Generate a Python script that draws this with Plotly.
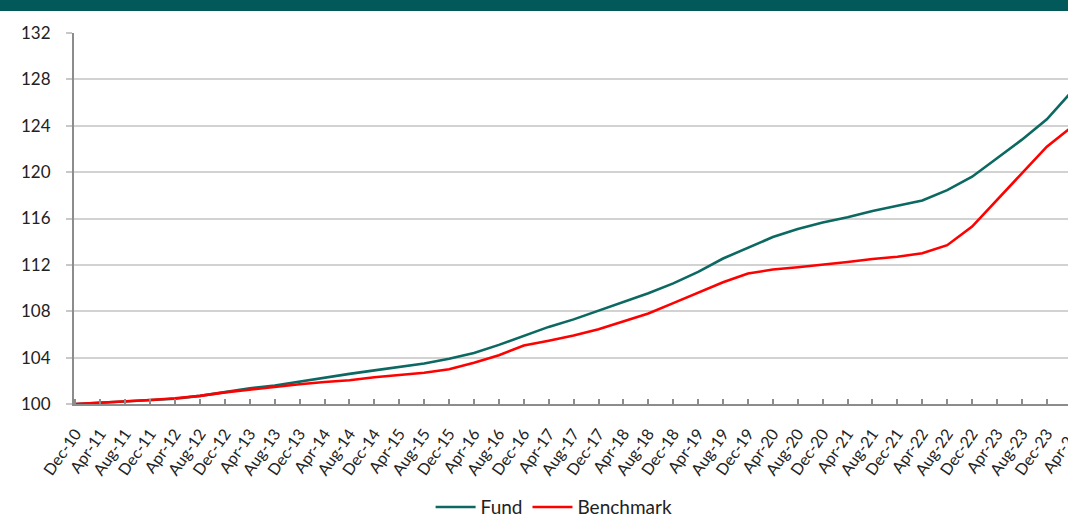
import plotly.graph_objects as go

# Tick labels (every 4 months, Dec-10 .. Apr-24)
tick_labels = ["Dec-10", "Apr-11", "Aug-11", "Dec-11", "Apr-12", "Aug-12", "Dec-12", "Apr-13",
               "Aug-13", "Dec-13", "Apr-14", "Aug-14", "Dec-14", "Apr-15", "Aug-15", "Dec-15",
               "Apr-16", "Aug-16", "Dec-16", "Apr-17", "Aug-17", "Dec-17", "Apr-18", "Aug-18",
               "Dec-18", "Apr-19", "Aug-19", "Dec-19", "Apr-20", "Aug-20", "Dec-20", "Apr-21",
               "Aug-21", "Dec-21", "Apr-22", "Aug-22", "Dec-22", "Apr-23", "Aug-23", "Dec-23",
               "Apr-24"]
# month index since Dec-10 for each labelled date
months = [4 * i for i in range(len(tick_labels))]

fund = [100.0, 100.1, 100.2, 100.3, 100.45, 100.7, 101.05, 101.35, 101.6, 101.95,
        102.3, 102.6, 102.9, 103.2, 103.5, 103.9, 104.4, 105.1, 105.9, 106.65,
        107.3, 108.05, 108.75, 109.55, 110.4, 111.4, 112.55, 113.45, 114.4, 115.1,
        115.65, 116.1, 116.65, 117.1, 117.55, 118.45, 119.6, 121.2, 122.8, 124.55,
        126.95]
benchmark = [100.0, 100.1, 100.2, 100.35, 100.5, 100.7, 101.0, 101.25, 101.5, 101.7,
             101.9, 102.05, 102.3, 102.5, 102.7, 103.0, 103.55, 104.2, 105.05, 105.45,
             105.9, 106.45, 107.1, 107.8, 108.7, 109.6, 110.5, 111.25, 111.6, 111.8,
             112.0, 112.25, 112.5, 112.7, 113.0, 113.7, 115.3, 117.6, 119.9, 122.2,
             123.9]
y_ticks = [100, 104, 108, 112, 116, 120, 124, 128, 132]

FONT = "Lato, 'Liberation Sans', sans-serif"
TEAL = "#0C6962"
RED = "#FF0000"
X_ANGLE = -55
X_FONT = 16

fig = go.Figure()
fig.add_trace(go.Scatter(x=months, y=fund, mode="lines", name="Fund",
                         line=dict(color=TEAL, width=2.6)))
fig.add_trace(go.Scatter(x=months, y=benchmark, mode="lines", name="Benchmark",
                         line=dict(color=RED, width=2.6)))

fig.update_layout(
    width=1068, height=516,
    margin=dict(l=74, r=0, t=33, b=112, autoexpand=False),
    paper_bgcolor="white", plot_bgcolor="white",
    font=dict(family=FONT, color="#222222"),
    showlegend=True,
    legend=dict(orientation="h", x=0.483, xanchor="center", y=-0.278, yanchor="middle",
                font=dict(size=19, family=FONT, color="#222222"), traceorder="normal",
                itemwidth=40),
    xaxis=dict(range=[-0.24, 159.4], tickmode="array", tickvals=months[:-1],
               ticktext=tick_labels[:-1], tickangle=X_ANGLE, ticks="inside", ticklen=5,
               tickcolor="#8c8c8c", tickwidth=1.5, showline=True, linecolor="#8c8c8c",
               linewidth=2, showgrid=False, zeroline=False, automargin=False,
               ticklabelstandoff=12,
               tickfont=dict(size=X_FONT, family=FONT, color="#222222")),
    yaxis=dict(range=[100, 132], tickvals=y_ticks, ticks="outside", ticklen=6,
               tickcolor="#c8c8c8", tickwidth=2, showline=True, linecolor="#8c8c8c",
               linewidth=2, showgrid=True, gridcolor="#d2d2d2", gridwidth=2,
               zeroline=False, ticklabelstandoff=12, automargin=False,
               tickfont=dict(size=17, family=FONT, color="#222222")),
)

# top band
fig.add_shape(type="rect", xref="paper", yref="paper", x0=-0.08, x1=1.01,
              y0=1 + 22 / 371, y1=1 + 40 / 371, fillcolor="#03585A", line_width=0,
              layer="above")

# partially visible last tick label (cut off by the right edge of the picture)
fig.add_annotation(text=tick_labels[-1], x=(1060 - 74) / 994, xref="paper",
                   y=-(450 - 404) / 371, yref="paper",
                   xanchor="center", yanchor="middle", textangle=X_ANGLE, showarrow=False,
                   font=dict(size=X_FONT, family=FONT, color="#222222"))

fig.write_html("out.html", config={"displayModeBar": False},
               post_script="document.body.style.margin='0';document.body.style.overflow='hidden';")
